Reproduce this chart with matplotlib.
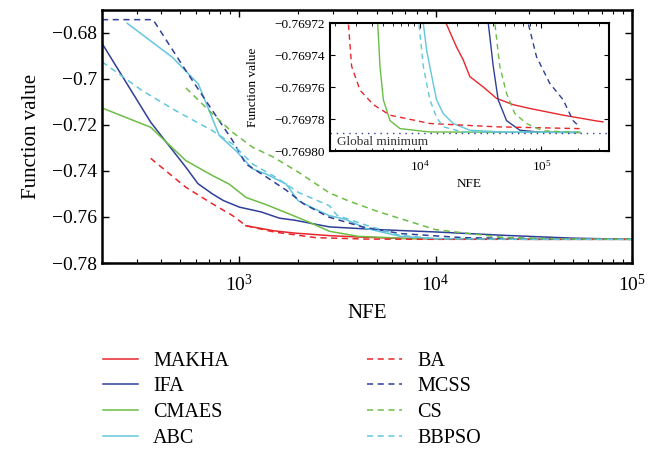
import numpy as np
import matplotlib
matplotlib.use('Agg')
import matplotlib.pyplot as plt
from matplotlib.ticker import FuncFormatter, LogLocator, NullFormatter

plt.rcParams['font.family'] = ['Liberation Serif', 'DejaVu Serif']
plt.rcParams['mathtext.fontset'] = 'custom'
plt.rcParams['mathtext.rm'] = 'Liberation Serif'
plt.rcParams['axes.unicode_minus'] = True

# colours
RED = '#e8262c'
BLUE = '#2f3f98'
GREEN = '#6cbd45'
CYAN = '#63c7dc'

# ---- main plot data (NFE, function value) ----
makha_x = [1080, 1500, 1920, 2880, 4030, 6600, 10000, 30000, 100000]
makha_y = [-0.7638, -0.7660, -0.7670, -0.7681, -0.7687, -0.7693, -0.7695, -0.7697, -0.7697]

ifa_x = [200, 354, 535, 616, 731, 828, 1000, 1293, 1600, 1919, 2877, 5150, 10000, 22700, 50000, 100000]
ifa_y = [-0.6845, -0.7188, -0.7384, -0.7455, -0.7500, -0.7528, -0.7557, -0.7578, -0.7605, -0.7614,
         -0.7643, -0.7655, -0.7665, -0.7680, -0.7692, -0.7697]

cmaes_x = [200, 354, 535, 731, 889, 1082, 1368, 1800, 2276, 2877, 4030, 7000, 15000, 100000]
cmaes_y = [-0.7126, -0.7210, -0.7355, -0.7420, -0.7457, -0.7515, -0.7546, -0.7587, -0.7623,
           -0.7662, -0.7684, -0.7693, -0.7696, -0.7697]

abc_x = [269, 457, 619, 791, 962, 1170, 1368, 1733, 2000, 2428, 2877, 3470, 4440, 6610, 10000, 30000, 100000]
abc_y = [-0.6758, -0.6906, -0.7022, -0.7246, -0.7312, -0.7391, -0.7413, -0.7457, -0.7530, -0.7565,
         -0.7594, -0.7610, -0.7650, -0.7684, -0.7694, -0.7697, -0.7697]

ba_x = [354, 535, 731, 925, 1082, 1500, 2460, 4500, 10000, 100000]
ba_y = [-0.7345, -0.7471, -0.7543, -0.7594, -0.7638, -0.7665, -0.7690, -0.7696, -0.7697, -0.7697]

mcss_x = [200, 364, 535, 731, 925, 1082, 1368, 1738, 2119, 2850, 4236, 6610, 13870, 37200, 100000]
mcss_y = [-0.6742, -0.6742, -0.6964, -0.7138, -0.7268, -0.7370, -0.7425, -0.7484, -0.7542, -0.7600,
          -0.7643, -0.7672, -0.7690, -0.7694, -0.7697]

cs_x = [535, 731, 925, 1170, 1480, 2000, 2877, 3600, 5150, 10000, 22700, 50000, 100000]
cs_y = [-0.7039, -0.7152, -0.7232, -0.7297, -0.7338, -0.7405, -0.7495, -0.7530, -0.7578, -0.7655,
        -0.7690, -0.7696, -0.7697]

bbpso_x = [200, 321, 475, 731, 925, 1170, 1539, 2000, 2877, 3150, 4440, 6610, 10000, 30000, 100000]
bbpso_y = [-0.6925, -0.7051, -0.7138, -0.7225, -0.7283, -0.7370, -0.7428, -0.7493, -0.7551, -0.7593,
           -0.7636, -0.7680, -0.7694, -0.7697, -0.7697]

# ---- inset data (zoom near the optimum) ----
glob_min = -0.7697887

in_makha_x = [15000, 16370, 20000, 22700, 25750, 33200, 42700, 58300, 80100, 151000, 283000, 321000]
in_makha_y = [-0.769715, -0.76972, -0.769735, -0.769743, -0.7697535, -0.769760, -0.7697671, -0.769771,
              -0.7697734, -0.7697776, -0.7697812, -0.7697818]

in_ifa_x = [35000, 36500, 40100, 44050, 51600, 66300, 100000, 206000]
in_ifa_y = [-0.769715, -0.76972, -0.769747, -0.769768, -0.769781, -0.769787, -0.7697883, -0.7697884]

in_cmaes_x = [4300, 4490, 4690, 5000, 5670, 6850, 12000, 206000]
in_cmaes_y = [-0.769715, -0.76972, -0.769747, -0.769768, -0.769781, -0.769786, -0.7697881, -0.7697884]

in_abc_x = [10300, 10650, 11350, 12870, 13700, 15550, 18800, 25750, 50000, 206000]
in_abc_y = [-0.769715, -0.76972, -0.769737, -0.769758, -0.769768, -0.7697766, -0.7697828, -0.769787,
            -0.7697882, -0.7697884]

in_ba_x = [2500, 2576, 2740, 3213, 4134, 5660, 12080, 42700, 206000]
in_ba_y = [-0.769715, -0.76972, -0.769747, -0.769762, -0.769771, -0.7697776, -0.7697828, -0.7697849,
           -0.769786]

in_mcss_x = [75000, 77700, 91000, 117000, 151000, 182000, 206000]
in_mcss_y = [-0.769715, -0.76972, -0.769741, -0.7697577, -0.769768, -0.769781, -0.7697849]

in_cs_x = [40000, 41300, 45400, 51600, 60400, 75300, 103000, 206000]
in_cs_y = [-0.769715, -0.76972, -0.769747, -0.769764, -0.7697766, -0.7697828, -0.7697874, -0.7697884]

in_bbpso_x = [9500, 9800, 10650, 12080, 13700, 15550, 22700, 206000]
in_bbpso_y = [-0.769715, -0.76972, -0.769747, -0.769768, -0.769779, -0.7697849, -0.7697881, -0.7697884]

series = [
    ('MAKHA', makha_x, makha_y, in_makha_x, in_makha_y, RED, '-'),
    ('IFA', ifa_x, ifa_y, in_ifa_x, in_ifa_y, BLUE, '-'),
    ('CMAES', cmaes_x, cmaes_y, in_cmaes_x, in_cmaes_y, GREEN, '-'),
    ('ABC', abc_x, abc_y, in_abc_x, in_abc_y, CYAN, '-'),
    ('BA', ba_x, ba_y, in_ba_x, in_ba_y, RED, '--'),
    ('MCSS', mcss_x, mcss_y, in_mcss_x, in_mcss_y, BLUE, '--'),
    ('CS', cs_x, cs_y, in_cs_x, in_cs_y, GREEN, '--'),
    ('BBPSO', bbpso_x, bbpso_y, in_bbpso_x, in_bbpso_y, CYAN, '--'),
]

fig = plt.figure(figsize=(6.59, 4.54), dpi=100)
ax = fig.add_axes([0.1548, 0.4207, 0.8042, 0.5573])

handles = []
for name, x, y, ix, iy, c, ls in series:
    if ls == '--':
        h, = ax.plot(x, y, color=c, lw=1.1, linestyle='--', dashes=(4, 3), label=name)
    else:
        h, = ax.plot(x, y, color=c, lw=1.1, label=name)
    handles.append(h)

ax.set_xscale('log')
ax.set_xlim(200, 1e5)
ax.set_ylim(-0.78, -0.67)
ax.set_yticks([-0.78, -0.76, -0.74, -0.72, -0.7, -0.68])


def short_fmt(v, pos):
    s = ('%.2f' % v).rstrip('0').rstrip('.')
    return s.replace('-', '\u2212')


ax.yaxis.set_major_formatter(FuncFormatter(short_fmt))
ax.xaxis.set_major_locator(LogLocator(base=10, numticks=10))
ax.xaxis.set_minor_locator(LogLocator(base=10, subs=np.arange(2, 10), numticks=20))
ax.xaxis.set_minor_formatter(NullFormatter())
ax.tick_params(which='both', direction='in', top=True, right=True, labelsize=14)
ax.tick_params(which='major', length=5, width=1)
ax.tick_params(which='minor', length=3, width=0.8)
ax.tick_params(axis='x', pad=8)
for sp in ax.spines.values():
    sp.set_linewidth(1.8)
ax.set_xlabel('NFE', fontsize=15, labelpad=6)
ax.set_ylabel('Function value', fontsize=15, labelpad=8)

# ---- inset ----
ins = fig.add_axes([0.5008, 0.6674, 0.4234, 0.2819])
ins.set_facecolor('white')
for name, x, y, ix, iy, c, ls in series:
    if ls == '--':
        ins.plot(ix, iy, color=c, lw=1.0, linestyle='--', dashes=(4, 3))
    else:
        ins.plot(ix, iy, color=c, lw=1.0)
ins.axhline(glob_min, color=BLUE, lw=1.0, linestyle=':', dashes=(1, 3.5))
ins.text(0.025, 0.05, 'Global minimum', transform=ins.transAxes, fontsize=9.5, color='#333333')
ins.set_xscale('log')
ins.set_xlim(1820, 3.6e5)
ins.set_ylim(-0.76980, -0.76972)
ins.set_yticks([-0.76980, -0.76978, -0.76976, -0.76974, -0.76972])
ins.yaxis.set_major_formatter(FuncFormatter(lambda v, p: ('%.5f' % v).replace('-', '\u2212')))
ins.xaxis.set_minor_formatter(NullFormatter())
ins.tick_params(which='both', direction='in', top=True, right=True, labelsize=9.5)
ins.tick_params(which='major', length=3.5)
ins.tick_params(which='minor', length=2)
ins.tick_params(axis='x', pad=6)
for sp in ins.spines.values():
    sp.set_linewidth(1.5)
ins.set_xlabel('NFE', fontsize=9.5, labelpad=3)
ins.set_ylabel('Function value', fontsize=9.5, labelpad=11)

fig.legend(handles=handles, loc='upper left', bbox_to_anchor=(0.156, 0.225), ncol=2,
           frameon=False, fontsize=14.5, handlelength=1.75, handletextpad=0.75,
           columnspacing=6.85, labelspacing=0.32, borderaxespad=0, borderpad=0)

fig.savefig('out.png', dpi=100)
